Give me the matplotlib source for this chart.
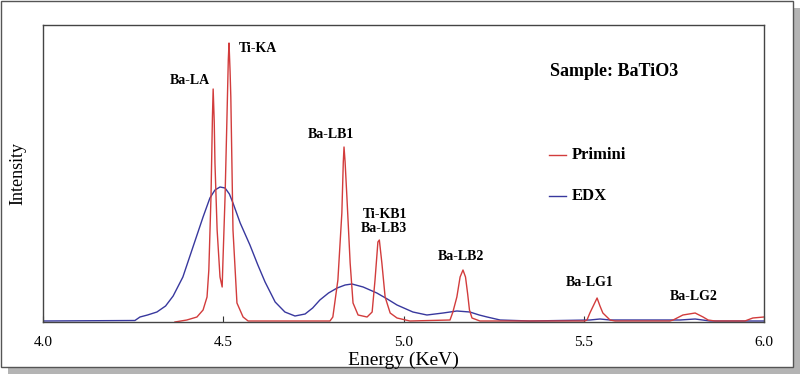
import matplotlib
matplotlib.use("Agg")
import matplotlib.pyplot as plt
from matplotlib.patches import Rectangle
from matplotlib.lines import Line2D

# Primini spectrum (energy in keV, intensity in arbitrary units)
primini_e = [4.366, 4.399, 4.427, 4.444, 4.455, 4.460, 4.466, 4.470, 4.472, 4.475, 4.477, 4.483,
             4.491, 4.497, 4.499, 4.505, 4.510, 4.514, 4.516, 4.519, 4.521, 4.524, 4.527, 4.538,
             4.555, 4.569, 4.796, 4.804, 4.818, 4.829, 4.833, 4.835, 4.838, 4.843, 4.852, 4.860,
             4.874, 4.899, 4.913, 4.921, 4.929, 4.933, 4.940, 4.949, 4.963, 4.982, 5.018,
             5.129, 5.137, 5.148, 5.157, 5.165, 5.172, 5.178, 5.183, 5.190, 5.212, 5.503,
             5.509, 5.517, 5.525, 5.537, 5.545, 5.553, 5.573, 5.587, 5.739, 5.748, 5.775,
             5.809, 5.831, 5.845, 5.864, 5.947, 5.969, 6.000]
primini_i = [0, 2, 5, 12, 25, 52, 125, 205, 233, 200, 159, 92,
             45, 35, 59, 125, 200, 262, 279, 250, 225, 159, 92, 19,
             5, 1, 1, 5, 42, 109, 160, 175, 160, 125, 59, 19,
             7, 5, 10, 42, 80, 82, 59, 25, 9, 4, 1,
             2, 10, 25, 45, 52, 45, 28, 12, 4, 1, 1,
             2, 9, 15, 24, 16, 9, 2, 1, 1, 2, 7,
             9, 5, 2, 1, 1, 4, 5]

# EDX spectrum
edx_e = [4.000, 4.255, 4.269, 4.290, 4.316, 4.340, 4.361, 4.388, 4.416, 4.444, 4.463, 4.477,
         4.491, 4.505, 4.517, 4.527, 4.547, 4.574, 4.596, 4.616, 4.644, 4.671, 4.699, 4.727,
         4.748, 4.768, 4.792, 4.816, 4.838, 4.857, 4.888, 4.926, 4.955, 4.982, 5.026, 5.065,
         5.110, 5.148, 5.184, 5.210, 5.232, 5.268, 5.351, 5.517, 5.545, 5.573, 5.767, 5.809,
         5.850, 6.000]
edx_i = [1, 1.5, 5, 7, 10, 16, 26, 45, 75, 105, 124, 132,
         135, 134, 128, 119, 99, 77, 57, 40, 20, 10, 6, 8,
         14, 22, 29, 34, 37, 38, 35, 29, 23, 17, 10, 7,
         9, 11, 10, 7, 5, 2, 1, 2, 3, 2, 2, 3,
         1, 1]

peak_labels = ["Ba-LA", "Ti-KA", "Ba-LB1", "Ti-KB1", "Ba-LB3", "Ba-LB2", "Ba-LG1", "Ba-LG2"]
label_pos = [(4.408, 242), (4.596, 273), (4.799, 187), (4.949, 107), (4.946, 93),
             (5.160, 65), (5.517, 39), (5.806, 25)]

xticks = [4.0, 4.5, 5.0, 5.5, 6.0]
xticklabels = ["4.0", "4.5", "5.0", "5.5", "6.0"]

red = "#d23c3c"
blue = "#38389e"
serif = "Liberation Serif"

fig = plt.figure(figsize=(8.0, 3.74), dpi=100)
fig.patch.set_facecolor("white")

# frame with drop shadow
fig.patches.append(Rectangle((8 / 800, 0), 792 / 800, 366 / 374, transform=fig.transFigure,
                             facecolor="#b4b4b4", edgecolor="none", zorder=0))
fig.patches.append(Rectangle((1 / 800, 1 - 367 / 374), 792 / 800, 366 / 374,
                             transform=fig.transFigure, facecolor="white",
                             edgecolor="#555555", linewidth=1.0, zorder=1))

ax = fig.add_axes([43 / 800, 1 - 322 / 374, 721 / 800, 297 / 374])
ax.set_zorder(2)

ax.plot(edx_e, edx_i, color=blue, linewidth=1.0)
ax.plot(primini_e, primini_i, color=red, linewidth=1.0)

ax.set_xlim(4.0, 6.0)
ax.set_ylim(0, 297)
ax.set_yticks([])
ax.set_xticks(xticks)
ax.set_xticklabels(xticklabels, fontfamily=serif, fontsize=11)
ax.tick_params(axis="x", direction="in", length=4, pad=10, color="#333333")
for s in ax.spines.values():
    s.set_color("#444444")
    s.set_linewidth(1.0)

ax.set_xlabel("Energy (KeV)", fontfamily=serif, fontsize=14, labelpad=2)
ax.set_ylabel("Intensity", fontfamily=serif, fontsize=13, labelpad=12)

for lab, (x, y) in zip(peak_labels, label_pos):
    ax.text(x, y, lab, ha="center", va="center", fontfamily=serif,
            fontweight="bold", fontsize=10)

ax.text(0.703, 0.845, "Sample: BaTiO3", transform=ax.transAxes, ha="left", va="center",
        fontfamily=serif, fontweight="bold", fontsize=13)

# legend entries
for yl, col, name in [(0.562, red, "Primini"), (0.424, blue, "EDX")]:
    ax.add_line(Line2D([0.702, 0.725], [yl, yl], transform=ax.transAxes, color=col, linewidth=1.0))
    ax.text(0.734, yl, name, transform=ax.transAxes, ha="left", va="center",
            fontfamily=serif, fontweight="bold", fontsize=12)

fig.savefig("out.png", dpi=100)
